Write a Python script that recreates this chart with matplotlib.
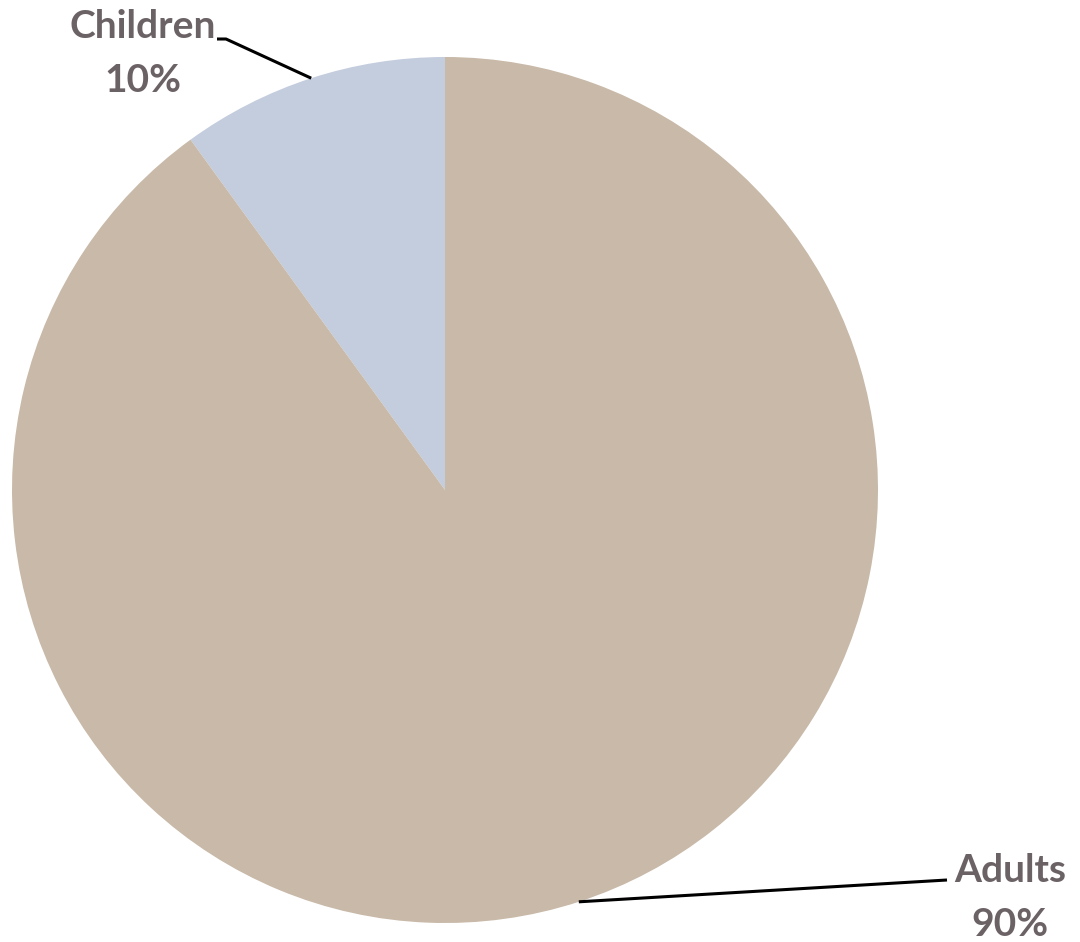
import matplotlib.pyplot as plt
import numpy as np

labels = ["Children", "Adults"]
shares = [10, 90]
colors = ["#c4cddd", "#c8b9a8"]
label_pos = [(143, 916), (1010, 72)]    # text centre (name line), pixel coords from bottom
elbow = [(226, 903), (947, 62)]

plt.rcParams['font.family'] = ['Lato', 'DejaVu Sans']

fig = plt.figure(figsize=(10.8, 9.42), dpi=100)
ax = fig.add_axes([0, 0, 1, 1])

cx, cy, r = 445, 452, 433
wedges, _ = ax.pie(shares, colors=colors, startangle=90, counterclock=True,
                   center=(cx, cy), radius=r, frame=True,
                   wedgeprops=dict(linewidth=0))
ax.set_xlim(0, 1080)
ax.set_ylim(0, 942)
ax.set_aspect('equal')
ax.axis('off')

for w, lab, val, (tx, ty), (ex, ey) in zip(wedges, labels, shares, label_pos, elbow):
    mid = np.deg2rad((w.theta1 + w.theta2) / 2)
    px, py = cx + r * np.cos(mid), cy + r * np.sin(mid)
    end_x = ex + (-9 if lab == "Children" else 0)
    ax.plot([px, ex, end_x], [py, ey, ey], color="black", lw=2.2, solid_capstyle='butt')
    ax.text(tx, ty, lab, ha='center', va='center', fontsize=28, fontweight='bold', color="#6b6266")
    ax.text(tx, ty - 54, f"{val}%", ha='center', va='center', fontsize=28, fontweight='bold', color="#6b6266")

fig.savefig("out.png", dpi=100, facecolor="white")
